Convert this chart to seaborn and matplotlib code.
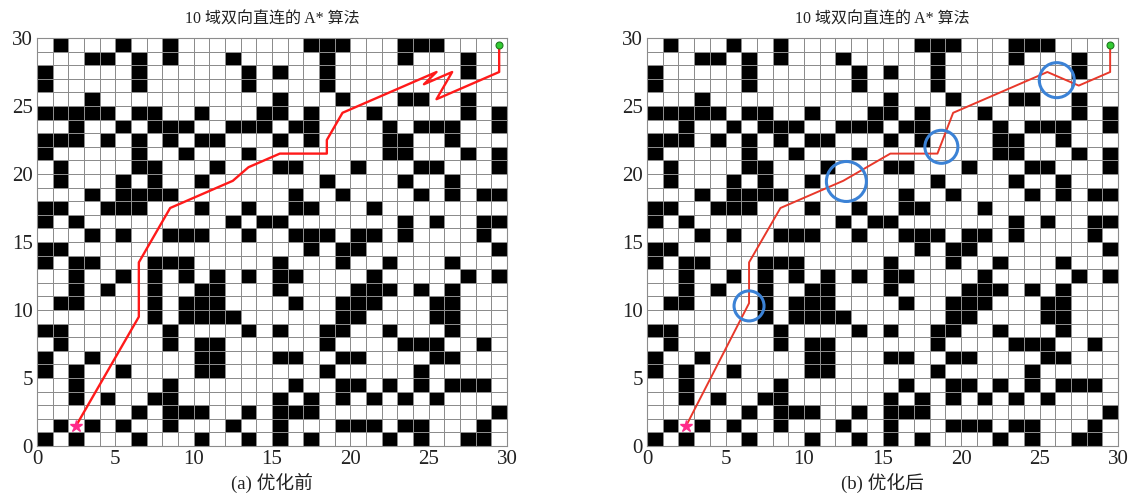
import numpy as np
import matplotlib
matplotlib.use('Agg')
import matplotlib.pyplot as plt
import seaborn as sns
from matplotlib.colors import ListedColormap

sns.set_theme(style='white')
plt.rcParams['font.family'] = ['Liberation Serif', 'Noto Sans CJK SC']

# ---------------- data ----------------
GRID_N = 30
# obstacle columns per grid row, listed from the top row (y 29-30) down to the bottom row (y 0-1)
obstacle_rows = [
    [1, 5, 8, 17, 18, 19, 23, 24, 25],
    [3, 4, 6, 8, 12, 18, 23, 27],
    [0, 6, 13, 15, 18, 27],
    [0, 6, 13, 18],
    [3, 15, 19, 23, 24, 27],
    [0, 1, 2, 3, 4, 6, 7, 10, 14, 15, 17, 21, 27, 29],
    [2, 5, 7, 8, 9, 12, 13, 14, 16, 17, 22, 24, 25, 26, 29],
    [0, 1, 2, 4, 6, 8, 10, 11, 15, 17, 22, 23, 26],
    [0, 6, 9, 13, 22, 23, 27, 29],
    [1, 6, 7, 11, 15, 16, 20, 24, 25, 29],
    [1, 5, 7, 10, 18, 23, 26],
    [3, 5, 6, 7, 8, 16, 19, 24, 26, 28, 29],
    [0, 1, 4, 5, 6, 10, 13, 16, 17, 21],
    [0, 2, 12, 14, 15, 23, 25, 28, 29],
    [3, 5, 8, 9, 10, 13, 16, 17, 18, 20, 21, 23, 28],
    [0, 1, 17, 19, 20, 29],
    [0, 2, 3, 7, 8, 9, 15, 19, 22, 26],
    [2, 5, 7, 9, 11, 13, 15, 16, 21, 27, 29],
    [2, 4, 7, 10, 11, 15, 20, 21, 22, 24, 26],
    [1, 2, 7, 9, 10, 11, 16, 19, 20, 21, 25, 26],
    [7, 9, 10, 11, 12, 19, 20, 25, 26],
    [0, 1, 8, 13, 15, 18, 19, 22, 26],
    [1, 8, 10, 11, 18, 23, 24, 25, 28],
    [0, 3, 10, 11, 15, 16, 19, 20, 25, 26],
    [0, 2, 5, 10, 11, 18, 24],
    [2, 8, 16, 19, 20, 22, 24, 26, 27, 28],
    [2, 4, 7, 8, 15, 17, 19, 21, 23, 25],
    [6, 8, 9, 10, 13, 15, 16, 17, 29],
    [1, 3, 5, 8, 12, 15, 19, 20, 21, 23, 24, 28],
    [0, 2, 6, 10, 13, 15, 17, 22, 24, 27, 28],
]

title_text = '10 域双向直连的 A* 算法'
captions = ['(a) 优化前', '(b) 优化后']
tick_values = [0, 5, 10, 15, 20, 25, 30]

start_xy = (2.5, 1.5)
goal_xy = (29.5, 29.5)

path_before_x = [2.5, 6.5, 6.5, 8.5, 12.5, 13.5, 15.5, 18.5, 18.5, 19.5, 25.5, 24.7, 26.5, 25.5, 29.5, 29.5]
path_before_y = [1.5, 9.5, 13.5, 17.5, 19.5, 20.5, 21.5, 21.5, 22.5, 24.5, 27.5, 26.6, 27.5, 25.5, 27.5, 29.5]

path_after_x = [2.5, 6.5, 6.5, 8.5, 12.5, 15.5, 18.5, 19.5, 25.5, 27.5, 29.5, 29.5]
path_after_y = [1.5, 10.5, 13.5, 17.5, 19.5, 21.5, 21.5, 24.5, 27.5, 26.5, 27.5, 29.5]

circle_x = [6.5, 12.7, 18.75, 26.1]
circle_y = [10.3, 19.45, 22.0, 26.9]
circle_radius_px = [15, 20, 16.5, 17.5]

# ---------------- build grid ----------------
grid = np.zeros((GRID_N, GRID_N))
for r, cols in enumerate(obstacle_rows):
    for c in cols:
        grid[GRID_N - 1 - r, c] = 1  # matrix row 0 = bottom of the map

W, H = 1131, 496
fig = plt.figure(figsize=(W / 100, H / 100), dpi=100)
ax_pos = [
    [37 / W, (H - 446) / H, 470 / W, 408 / H],
    [647 / W, (H - 446) / H, 471 / W, 408 / H],
]
cmap = ListedColormap(['white', 'black'])

for k, pos in enumerate(ax_pos):
    ax = fig.add_axes(pos)
    sns.heatmap(grid, ax=ax, cmap=cmap, vmin=0, vmax=1, cbar=False,
                linewidths=0.6, linecolor='#8c8c8c',
                xticklabels=False, yticklabels=False)
    ax.set_xlim(0, GRID_N)
    ax.set_ylim(0, GRID_N)
    ax.set_xticks(tick_values)
    ax.set_yticks(tick_values)
    ax.set_xticklabels([str(v) for v in tick_values], fontsize=15)
    ax.set_yticklabels([str(v) for v in tick_values], fontsize=15)
    ax.tick_params(length=0, pad=3, labelcolor='#222222')
    for s in ax.spines.values():
        s.set_visible(True)
        s.set_color('#8c8c8c')
        s.set_linewidth(0.8)

    if k == 0:
        ax.plot(path_before_x, path_before_y, color='#ff1a1a', lw=1.7, zorder=5)
    else:
        ax.plot(path_after_x, path_after_y, color='#e8382a', lw=1.4, zorder=5)
        sizes = [(2 * r * 72 / 100) ** 2 for r in circle_radius_px]
        ax.scatter(circle_x, circle_y, s=sizes, facecolors='none',
                   edgecolors='#3b82d6', linewidths=2.2, zorder=6)

    ax.plot([start_xy[0]], [start_xy[1]], marker='*', markersize=9,
            color='#ff2a8a', zorder=7, linestyle='none')
    ax.plot([goal_xy[0]], [goal_xy[1]], marker='o', markersize=5,
            markerfacecolor='#33cc33', markeredgecolor='#1f7a1f',
            markeredgewidth=0.8, zorder=7, linestyle='none')

    cx = (pos[0] + pos[2] / 2)
    fig.text(cx, 1 - 20 / H, title_text, ha='center', va='center',
             fontsize=11.5, color='#222222')
    fig.text(cx, 1 - 483 / H, captions[k], ha='center', va='center',
             fontsize=13.5, color='#222222')

fig.savefig('out.png', dpi=100, facecolor='white')
